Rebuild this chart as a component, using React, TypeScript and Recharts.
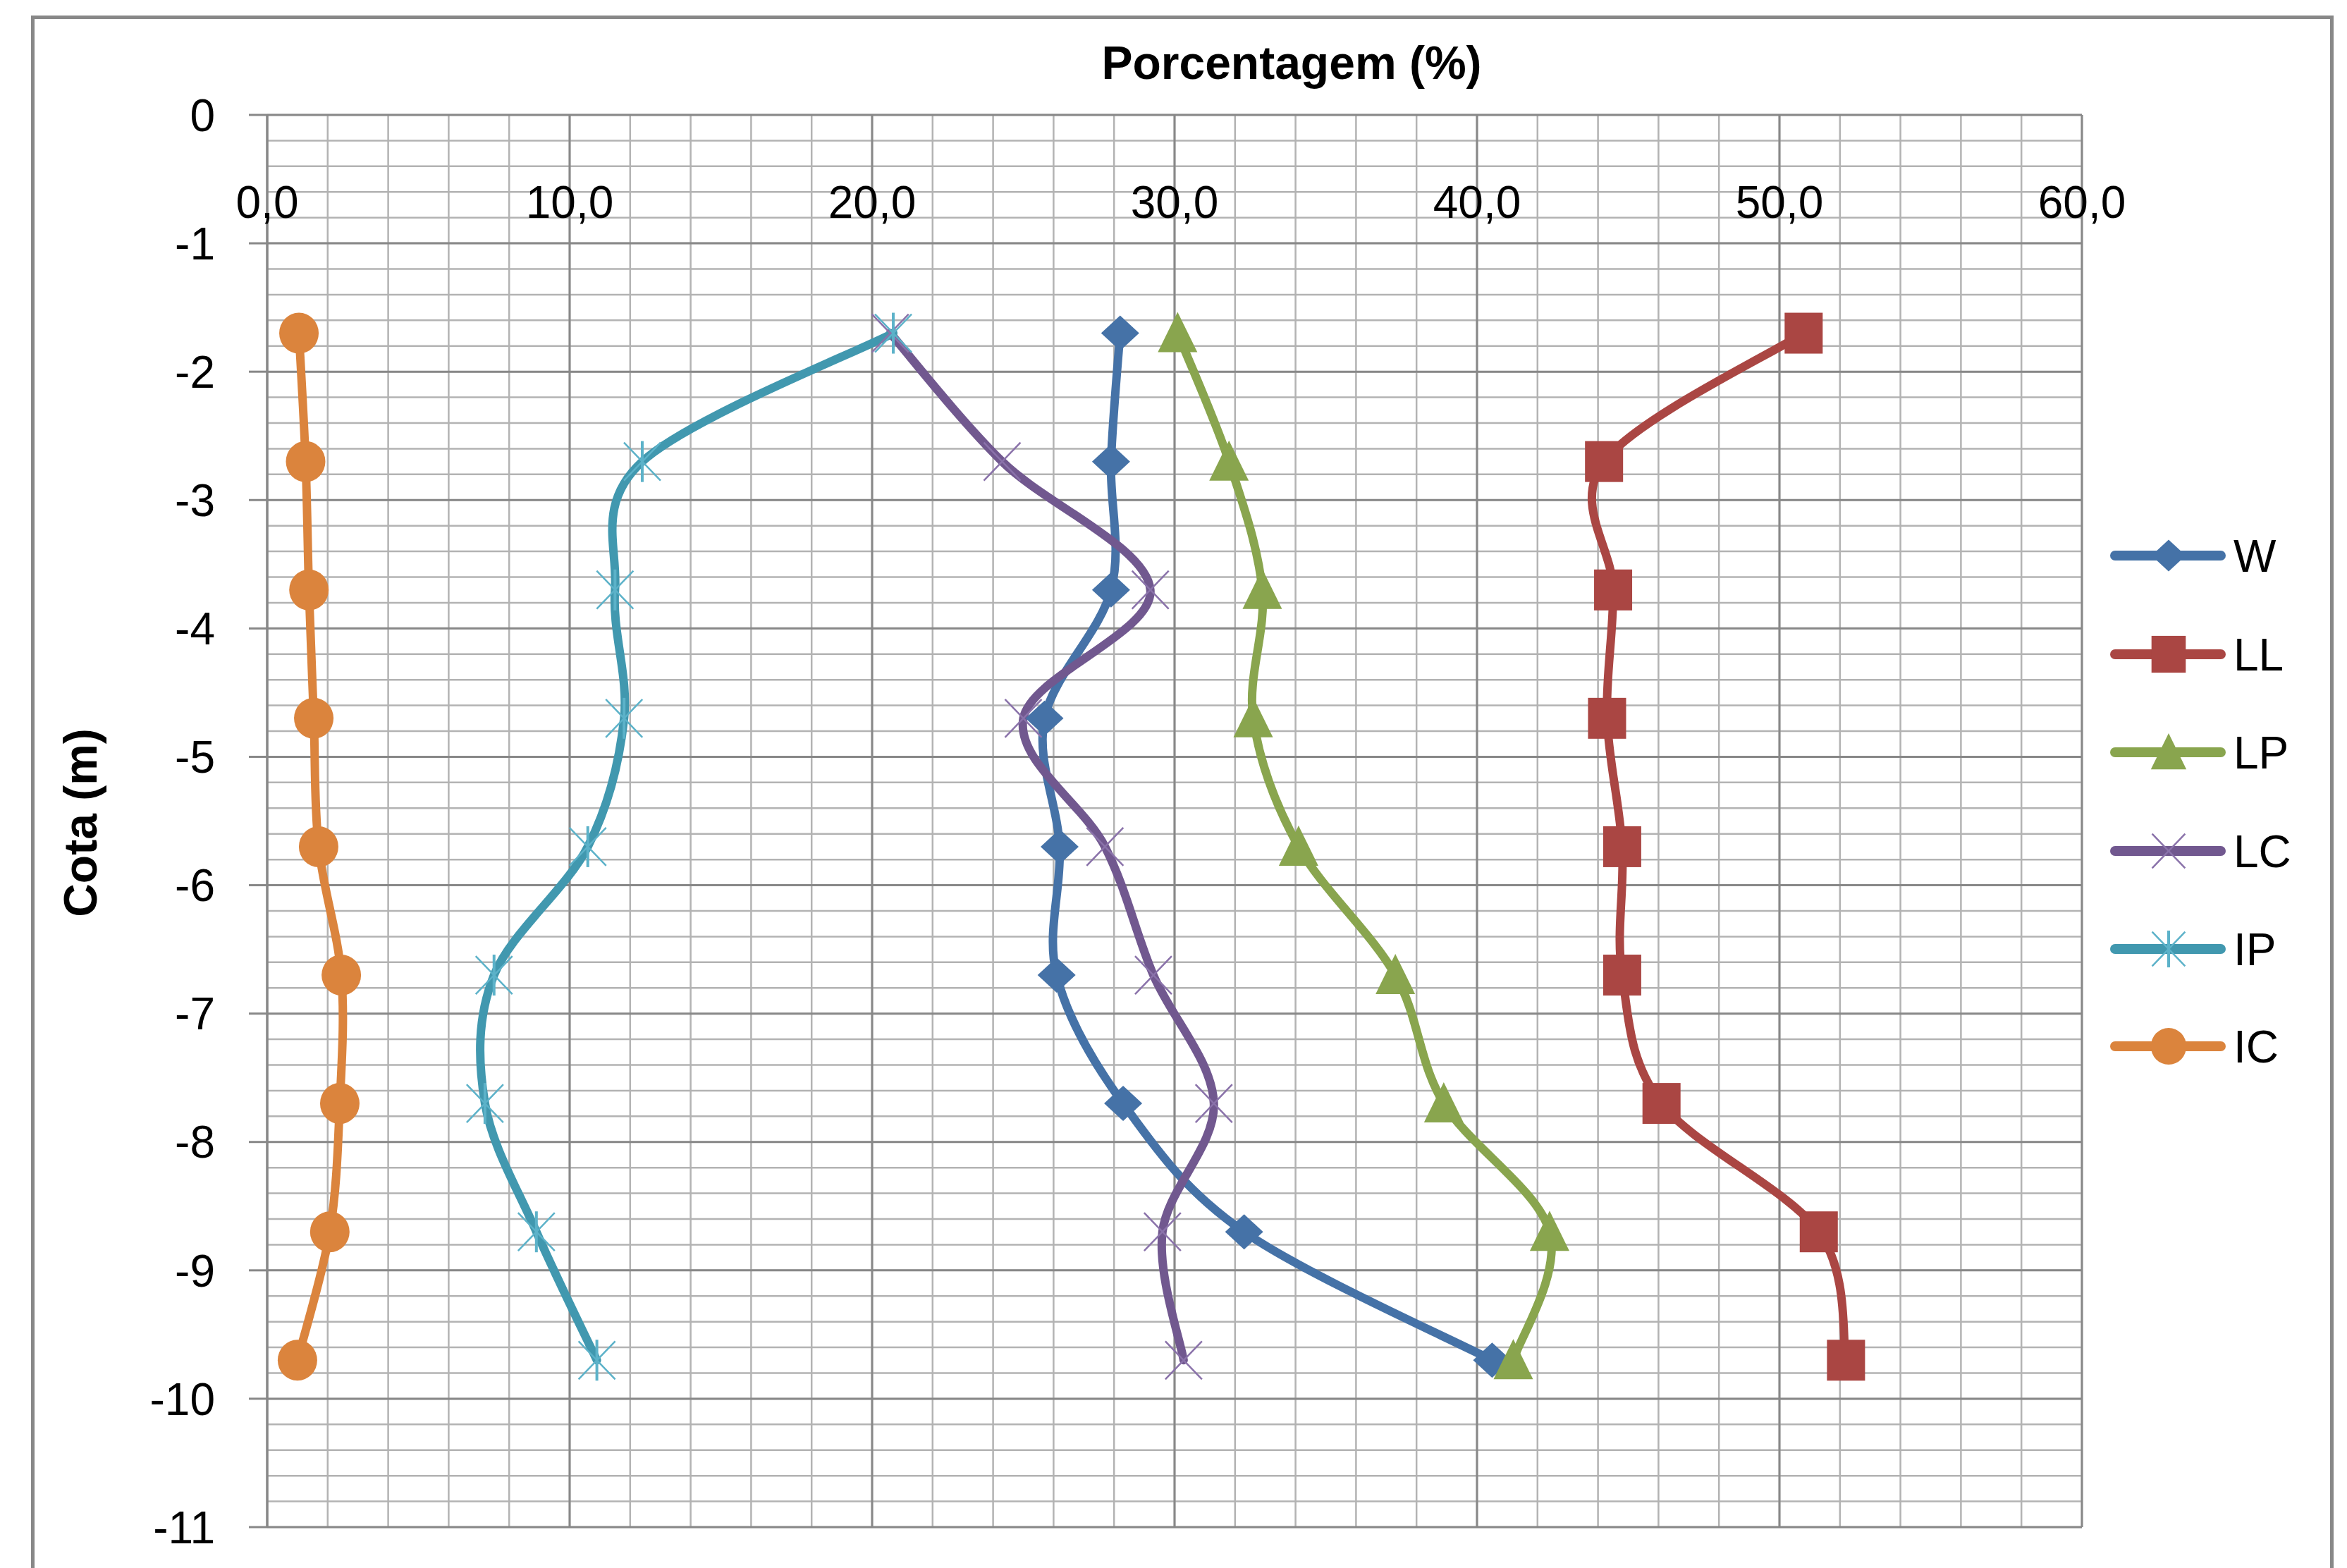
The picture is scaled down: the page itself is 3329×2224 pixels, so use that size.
import React from 'react';
import { LineChart, Line, XAxis, YAxis, CartesianGrid } from 'recharts';

// depth of each sample (m) and the measured values (%)
const COTA = [-1.7, -2.7, -3.7, -4.7, -5.7, -6.7, -7.7, -8.7, -9.7];
const W = [28.2, 27.9, 27.9, 25.7, 26.2, 26.1, 28.3, 32.3, 40.5];
const LL = [50.8, 44.2, 44.5, 44.3, 44.8, 44.8, 46.1, 51.3, 52.2];
const LP = [30.1, 31.8, 32.9, 32.6, 34.1, 37.3, 38.9, 42.4, 41.2];
const LC = [20.6, 24.3, 29.2, 25.0, 27.7, 29.3, 31.3, 29.6, 30.3];
const IP = [20.7, 12.4, 11.5, 11.8, 10.6, 7.5, 7.2, 8.9, 10.9];
const IC = [1.05, 1.27, 1.38, 1.54, 1.7, 2.45, 2.4, 2.07, 1.0];

const X_TICKS = [0, 10, 20, 30, 40, 50, 60];
const Y_TICKS = [0, -1, -2, -3, -4, -5, -6, -7, -8, -9, -10, -11];

const SERIES = [
  { key: 'W', values: W, color: '#4572A7', accent: '#4572A7', marker: 'diamond' },
  { key: 'LL', values: LL, color: '#AA4643', accent: '#AA4643', marker: 'square' },
  { key: 'LP', values: LP, color: '#89A54E', accent: '#89A54E', marker: 'triangle' },
  { key: 'LC', values: LC, color: '#71588F', accent: '#8a72aa', marker: 'x' },
  { key: 'IP', values: IP, color: '#4198AF', accent: '#5cb2c9', marker: 'star' },
  { key: 'IC', values: IC, color: '#DB843D', accent: '#DB843D', marker: 'circle' },
];

const rows = COTA.map((cota, i) => {
  const row: any = { cota };
  SERIES.forEach((s) => (row[s.key] = s.values[i]));
  return row;
});

// minor grid every 2 % and every 0.2 m
const X_MINOR = Array.from({ length: 31 }, (_, i) => i * 2);
const Y_MINOR = Array.from({ length: 56 }, (_, i) => -Math.round(i * 2) / 10);

const FONT = '"Liberation Sans", Arial, sans-serif';
const PAGE_W = 3329;
const PAGE_H = 2224;
const PLOT_TOP = 163;

// Excel-like smoothed line (bezier with 1/6 tangents)
function smoothCurve(context: any) {
  let pts: number[][] = [];
  return {
    areaStart() {},
    areaEnd() {},
    lineStart() {
      pts = [];
    },
    point(x: number, y: number) {
      pts.push([+x, +y]);
    },
    lineEnd() {
      const n = pts.length;
      if (!n) return;
      context.moveTo(pts[0][0], pts[0][1]);
      for (let i = 0; i < n - 1; i++) {
        const p0 = pts[Math.max(i - 1, 0)];
        const p1 = pts[i];
        const p2 = pts[i + 1];
        const p3 = pts[Math.min(i + 2, n - 1)];
        context.bezierCurveTo(
          p1[0] + (p2[0] - p0[0]) / 6,
          p1[1] + (p2[1] - p0[1]) / 6,
          p2[0] - (p3[0] - p1[0]) / 6,
          p2[1] - (p3[1] - p1[1]) / 6,
          p2[0],
          p2[1]
        );
      }
    },
  };
}

function Marker({ shape, cx, cy, color, accent, s = 1 }: any) {
  switch (shape) {
    case 'diamond':
      return (
        <polygon
          points={`${cx},${cy - 25 * s} ${cx + 27 * s},${cy} ${cx},${cy + 25 * s} ${cx - 27 * s},${cy}`}
          fill={color}
        />
      );
    case 'square':
      return <rect x={cx - 27 * s} y={cy - 29 * s} width={54 * s} height={58 * s} fill={color} />;
    case 'triangle':
      return (
        <polygon
          points={`${cx},${cy - 30 * s} ${cx + 28 * s},${cy + 27 * s} ${cx - 28 * s},${cy + 27 * s}`}
          fill={color}
        />
      );
    case 'x':
      return (
        <g stroke={accent} strokeWidth={2.5}>
          <line x1={cx - 26 * s} y1={cy - 27 * s} x2={cx + 26 * s} y2={cy + 27 * s} />
          <line x1={cx - 26 * s} y1={cy + 27 * s} x2={cx + 26 * s} y2={cy - 27 * s} />
        </g>
      );
    case 'star':
      return (
        <g stroke={accent} strokeWidth={2.5}>
          <line x1={cx - 26 * s} y1={cy - 27 * s} x2={cx + 26 * s} y2={cy + 27 * s} />
          <line x1={cx - 26 * s} y1={cy + 27 * s} x2={cx + 26 * s} y2={cy - 27 * s} />
          <line x1={cx} y1={cy - 29 * s} x2={cx} y2={cy + 29 * s} strokeWidth={4} />
        </g>
      );
    default:
      return <ellipse cx={cx} cy={cy} rx={28 * s} ry={29 * s} fill={color} />;
  }
}

const fmtX = (v: number) => v.toFixed(1).replace('.', ',');

const XTick = (props: any) => {
  const { x, payload } = props;
  return (
    <text x={x} y={PLOT_TOP + 146} textAnchor="middle" fontSize={64} fontFamily={FONT} fill="#000">
      {fmtX(payload.value)}
    </text>
  );
};

const LEGEND_Y = [788, 928, 1067, 1207, 1346, 1484];

export default function App() {
  return (
    <div
      style={{
        position: 'absolute',
        left: 0,
        top: 0,
        width: PAGE_W,
        height: PAGE_H,
        overflow: 'hidden',
        background: '#fff',
      }}
    >
      <div
        style={{
          position: 'absolute',
          left: 44,
          top: 22,
          width: 3266,
          height: 2400,
          boxSizing: 'border-box',
          border: '5px solid #888',
        }}
      />
      <div style={{ position: 'absolute', left: 0, top: 0 }}>
        <LineChart
          width={PAGE_W}
          height={PAGE_H}
          data={rows}
          layout="vertical"
          margin={{ top: PLOT_TOP - 1, right: 376, bottom: 58, left: 0 }}
        >
          <CartesianGrid
            stroke="#b3b3b3"
            strokeWidth={2.5}
            horizontalValues={Y_MINOR}
            verticalValues={X_MINOR}
          />
          <CartesianGrid
            stroke="#888"
            strokeWidth={3}
            horizontalValues={Y_TICKS}
            verticalValues={X_TICKS}
          />
          <XAxis
            type="number"
            orientation="top"
            height={1}
            domain={[0, 60]}
            ticks={X_TICKS}
            interval={0}
            axisLine={false}
            tickLine={false}
            tick={XTick}
          />
          <YAxis
            type="number"
            dataKey="cota"
            domain={[-11, 0]}
            reversed
            ticks={Y_TICKS}
            interval={0}
            width={379}
            tickSize={26}
            tickMargin={48}
            axisLine={{ stroke: '#888', strokeWidth: 3 }}
            tickLine={{ stroke: '#888', strokeWidth: 3 }}
            tick={{ fill: '#000', fontSize: 64, fontFamily: FONT }}
          />
          {SERIES.map((s) => (
            <Line
              key={s.key}
              dataKey={s.key}
              type={smoothCurve as any}
              stroke={s.color}
              strokeWidth={12}
              strokeLinejoin="round"
              strokeLinecap="round"
              isAnimationActive={false}
              activeDot={false}
              dot={(p: any) => (
                <Marker
                  key={`${s.key}-${p.index}`}
                  shape={s.marker}
                  cx={p.cx}
                  cy={p.cy}
                  color={s.color}
                  accent={s.accent}
                />
              )}
            />
          ))}
        </LineChart>
      </div>
      <svg
        width={PAGE_W}
        height={PAGE_H}
        style={{ position: 'absolute', left: 0, top: 0, pointerEvents: 'none' }}
      >
        <text x={1832} y={112} textAnchor="middle" fontSize={66} fontWeight="bold" fontFamily={FONT}>
          Porcentagem (%)
        </text>
        <text
          x={137}
          y={1167}
          transform="rotate(-90 137 1167)"
          textAnchor="middle"
          fontSize={66}
          fontWeight="bold"
          fontFamily={FONT}
        >
          Cota (m)
        </text>
        {SERIES.map((s, i) => (
          <g key={s.key}>
            <line
              x1={3000}
              y1={LEGEND_Y[i]}
              x2={3150}
              y2={LEGEND_Y[i]}
              stroke={s.color}
              strokeWidth={14}
              strokeLinecap="round"
            />
            <Marker shape={s.marker} cx={3076} cy={LEGEND_Y[i]} color={s.color} accent={s.accent} s={0.9} />
            <text x={3168} y={LEGEND_Y[i] + 23} fontSize={64} fontFamily={FONT}>
              {s.key}
            </text>
          </g>
        ))}
      </svg>
    </div>
  );
}
